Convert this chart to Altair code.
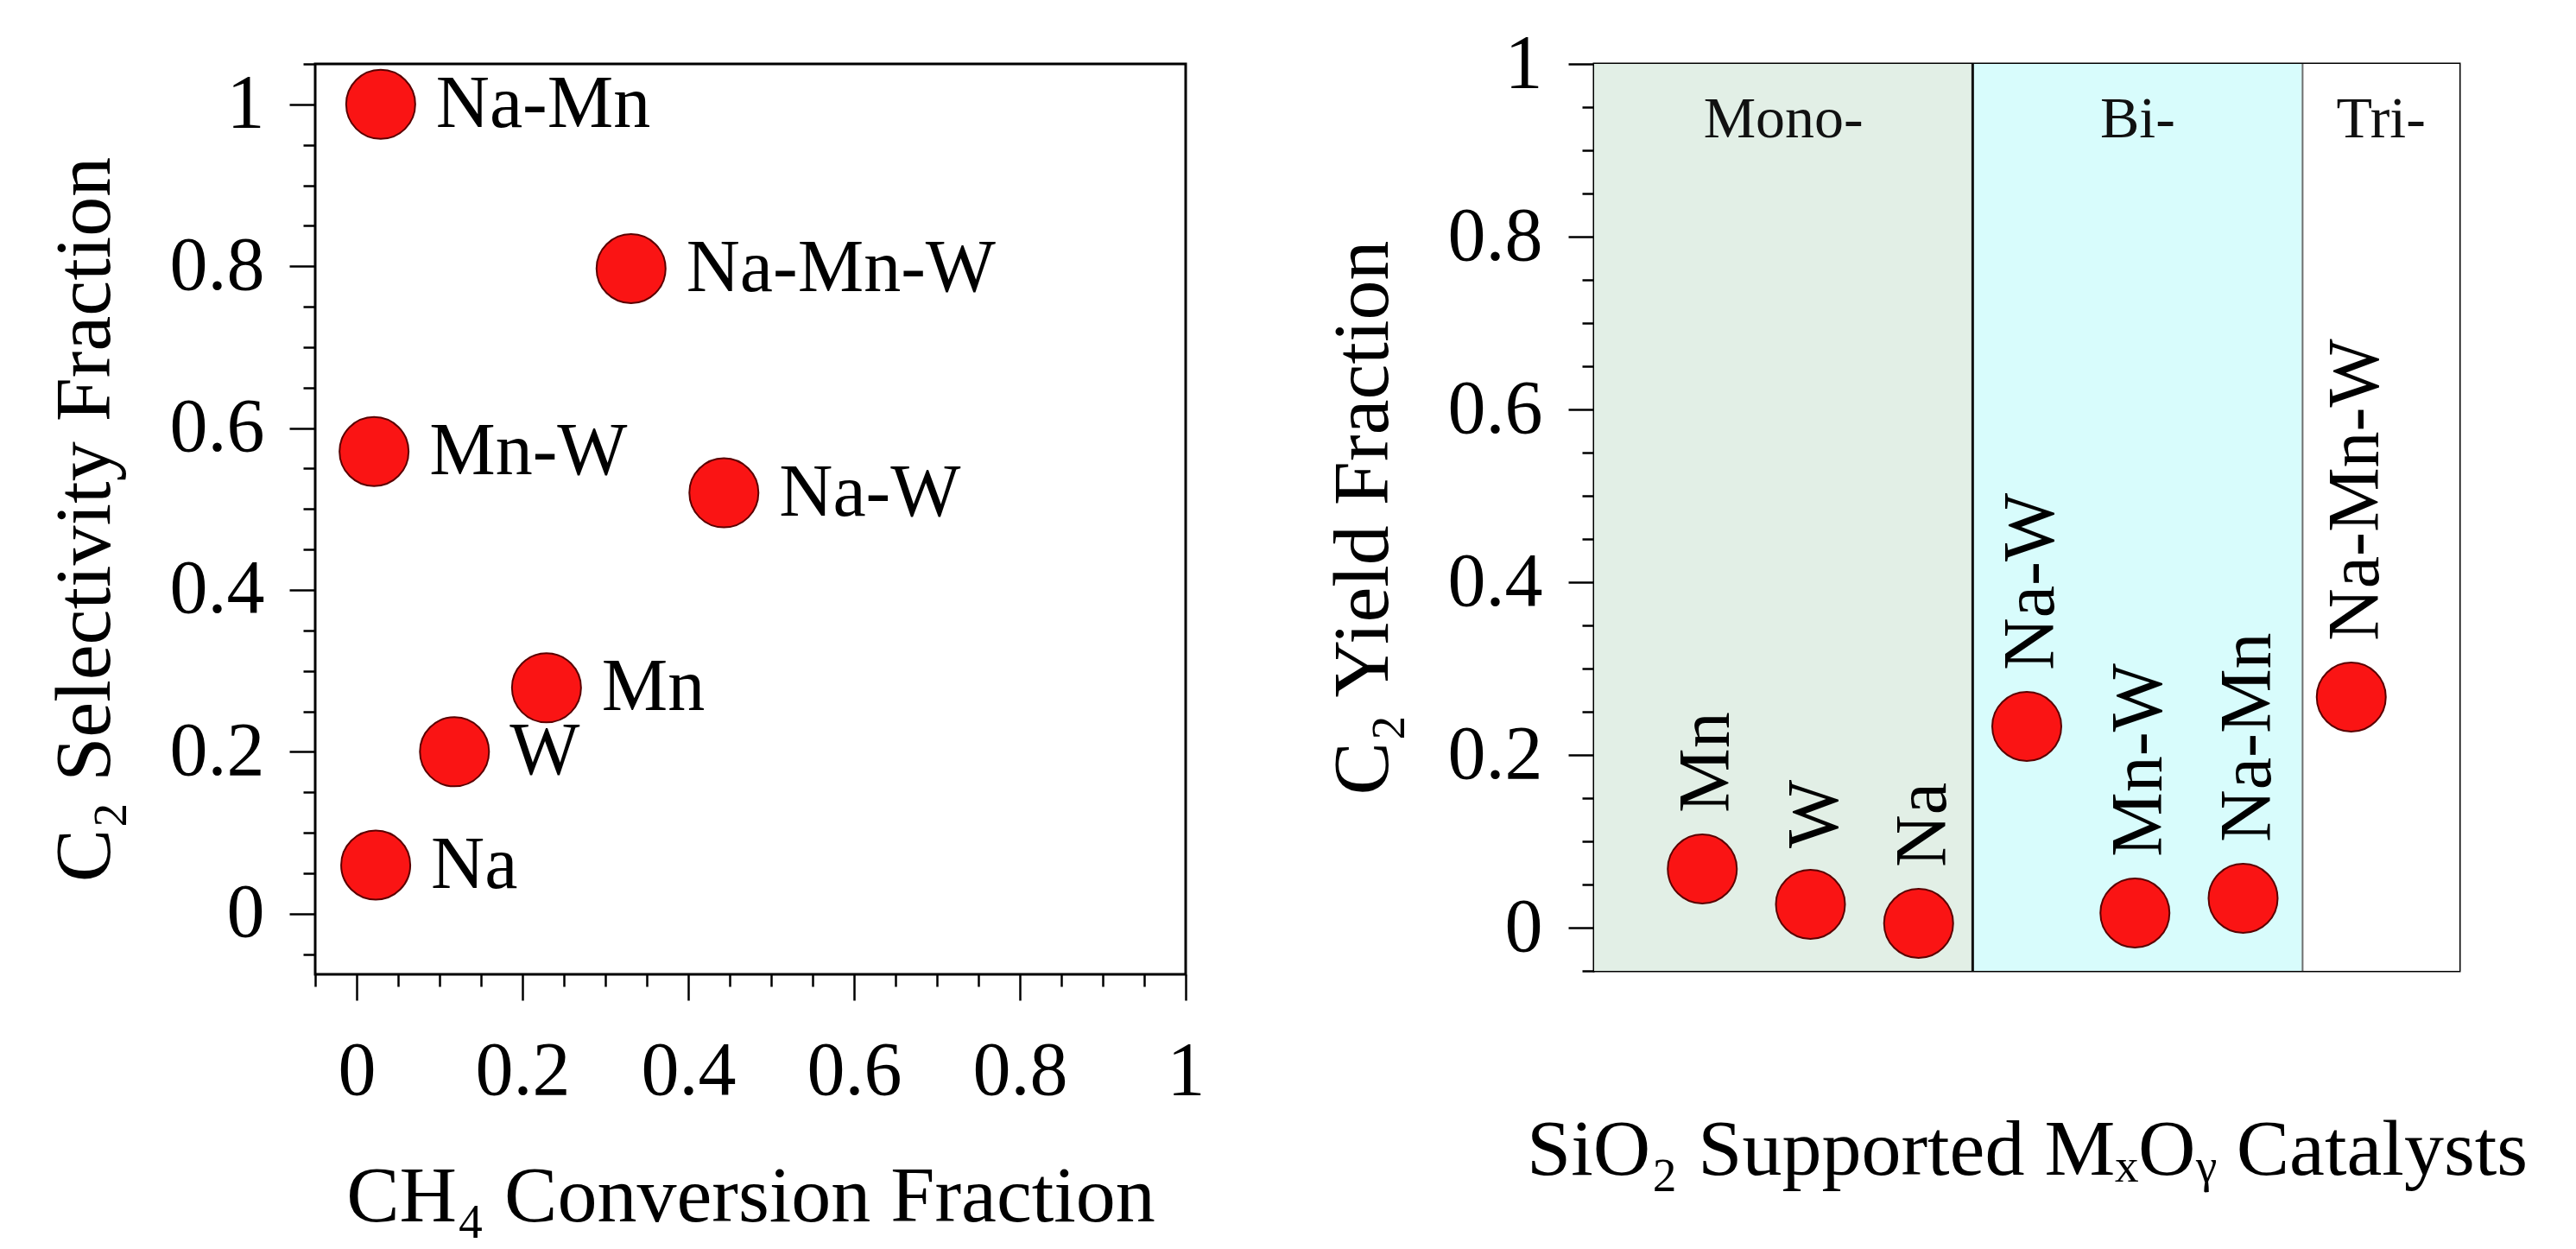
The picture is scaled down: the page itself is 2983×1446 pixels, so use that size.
import altair as alt
import pandas as pd

# left panel: CH4 conversion vs C2 selectivity
sel_names = ["Na-Mn", "Na-Mn-W", "Mn-W", "Na-W", "Mn", "W", "Na"]
sel_conversion = [0.029, 0.331, 0.021, 0.443, 0.229, 0.118, 0.023]
sel_selectivity = [1.0, 0.797, 0.571, 0.520, 0.279, 0.200, 0.060]

# right panel: C2 yield per catalyst
yield_names = ["Mn", "W", "Na", "Na-W", "Mn-W", "Na-Mn", "Na-Mn-W"]
yield_slot = [1, 2, 3, 4, 5, 6, 7]
yield_values = [0.068, 0.027, 0.005, 0.233, 0.017, 0.034, 0.267]

group_names = ["Mono-", "Bi-", "Tri-"]
group_start = [0, 3.5, 6.55]
group_end = [3.5, 6.55, 8]

# tick positions: labelled every 0.2, small ticks every 0.05
left_x_ticks = [round(-0.05 + 0.05 * i, 2) for i in range(22)]
left_y_ticks = [round(-0.05 + 0.05 * i, 2) for i in range(23)]
right_y_ticks = [round(-0.05 + 0.05 * i, 2) for i in range(22)]

FONT = "Liberation Serif"
RED = "#fa1414"
DARK = "#5a0000"
GROUP_FILL = ["#e2efe6", "#d8fcfc", "#ffffff"]
MAJOR = "abs(datum.value * 5 - round(datum.value * 5)) < 0.001"

W_L, H_L = 1008, 1054
W_R, H_R = 1002, 1050


def frac_axis(values, title, **kw):
    return alt.Axis(
        values=values,
        title=title,
        labelExpr=f"{MAJOR} ? format(datum.value, '~g') : ''",
        tickSize={"condition": {"test": MAJOR, "value": 30}, "value": 14},
        **kw,
    )


# ---------------- left chart ----------------
sel_df = pd.DataFrame({"catalyst": sel_names, "conversion": sel_conversion,
                       "selectivity": sel_selectivity})

x_left = alt.X("conversion:Q", scale=alt.Scale(domain=[-0.05, 1.0], nice=False, zero=False),
               axis=frac_axis(left_x_ticks, "CH₄ Conversion Fraction", labelPadding=38, titlePadding=56))
y_left = alt.Y("selectivity:Q", scale=alt.Scale(domain=[-0.075, 1.05], nice=False, zero=False),
               axis=frac_axis(left_y_ticks, "C₂ Selectivity Fraction", labelPadding=29, titlePadding=51))

base_left = alt.Chart(sel_df).encode(x=x_left, y=y_left)
left = alt.layer(
    base_left.mark_circle(size=6400, fill=RED, stroke=DARK, strokeWidth=2, opacity=1),
    base_left.mark_text(align="left", baseline="middle", dx=64, font=FONT, fontSize=86,
                        color="black").encode(text="catalyst:N"),
).properties(width=W_L, height=H_L)

# ---------------- right chart ----------------
yield_df = pd.DataFrame({"catalyst": yield_names, "slot": yield_slot, "c2_yield": yield_values})
group_df = pd.DataFrame({"group": group_names, "start": group_start, "end": group_end})

x_scale_r = alt.Scale(domain=[0, 8], nice=False, zero=False)
x_axis_r = alt.Axis(title="SiO₂ Supported MₓOᵧ Catalysts", labels=False, ticks=False,
                    domain=False, titlePadding=162)


def x_right(field):
    return alt.X(field, scale=x_scale_r, axis=x_axis_r)


y_right = alt.Y("c2_yield:Q", scale=alt.Scale(domain=[-0.05, 1.0], nice=False, zero=False),
                axis=frac_axis(right_y_ticks, "C₂ Yield Fraction", labelPadding=30, titlePadding=51))

bands = alt.Chart(group_df).mark_rect().encode(
    x=x_right("start:Q"),
    x2="end:Q",
    y=alt.value(0),
    y2=alt.value(H_R),
    color=alt.Color("group:N", scale=alt.Scale(domain=group_names, range=GROUP_FILL), legend=None),
)

dividers = alt.Chart(group_df).transform_filter(
    alt.FieldOneOfPredicate(field="group", oneOf=group_names[:2])
).mark_rule().encode(
    x=x_right("end:Q"),
    y=alt.value(0),
    y2=alt.value(H_R),
    stroke=alt.Stroke("group:N", scale=alt.Scale(domain=group_names[:2], range=["#111111", "#6e6e6e"]),
                      legend=None),
    strokeWidth=alt.StrokeWidth("group:N", scale=alt.Scale(domain=group_names[:2], range=[3, 2]),
                                legend=None),
)

group_labels = alt.Chart(group_df).transform_calculate(
    mid="(datum.start + datum.end) / 2"
).mark_text(baseline="alphabetic", align="center", font=FONT, fontSize=68, color="#111111").encode(
    x=x_right("mid:Q"),
    y=alt.value(85),
    text="group:N",
)

base_right = alt.Chart(yield_df).encode(x=x_right("slot:Q"), y=y_right)
right = alt.layer(
    bands,
    dividers,
    group_labels,
    base_right.mark_circle(size=6400, fill=RED, stroke=DARK, strokeWidth=2, opacity=1),
    base_right.mark_text(angle=270, align="left", baseline="middle", dx=65, dy=6, font=FONT,
                         fontSize=84, color="black").encode(text="catalyst:N"),
).properties(width=W_R, height=H_R)

chart = alt.hconcat(left, right, spacing=473, bounds="flush").properties(
    padding={"left": 42, "top": 20, "right": 10, "bottom": 10}
).configure_view(
    stroke="black", strokeWidth=3
).configure_axis(
    grid=False, domain=False, tickColor="black", tickWidth=2.5,
    labelFont=FONT, labelFontSize=88, labelColor="black", labelOverlap=False, labelFlush=False,
    titleFont=FONT, titleFontSize=92, titleFontWeight="normal", titleColor="black",
)

chart.save("out.html", embed_options={"renderer": "svg", "actions": False})
